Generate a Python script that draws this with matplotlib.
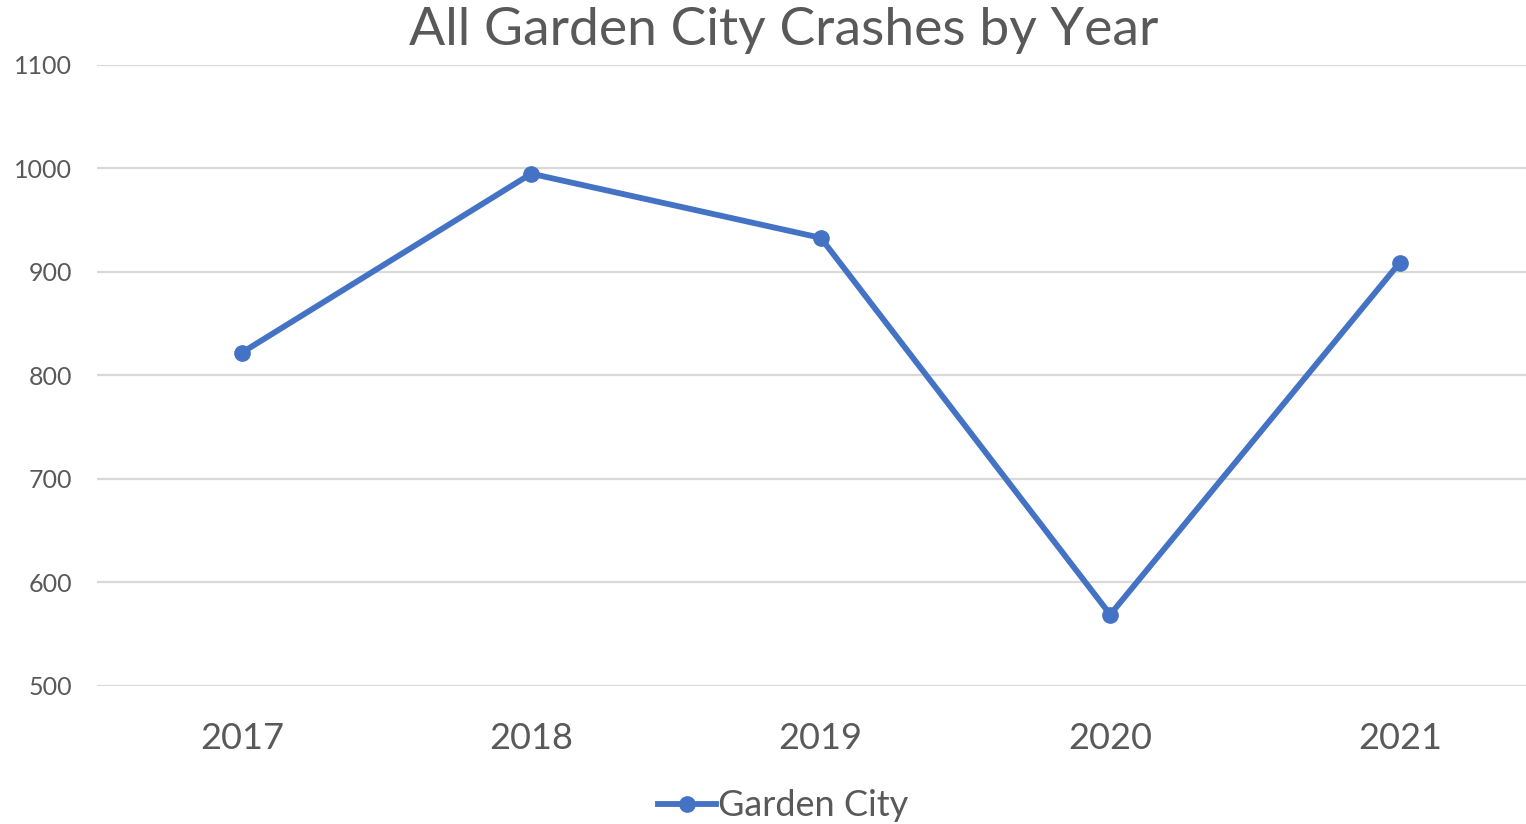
import matplotlib.pyplot as plt

# Data
years = ['2017', '2018', '2019', '2020', '2021']
crashes = [822, 995, 933, 569, 909]
series_name = 'Garden City'

plt.rcParams['font.family'] = ['Lato', 'DejaVu Sans']
text_color = '#595959'

fig = plt.figure(figsize=(15.26, 8.24), dpi=100)
ax = fig.add_axes([97 / 1526, 1 - 686 / 824, (1526 - 97) / 1526, (686 - 65) / 824])

x = range(len(years))
ax.plot(x, crashes, color='#4472C4', linewidth=4.2, marker='o', markersize=11,
        label=series_name, solid_joinstyle='round')

ax.set_ylim(500, 1100)
ax.set_yticks(range(500, 1101, 100))
ax.set_xlim(-0.5, (1526 - 97) / 289.5 - 0.5)
ax.set_xticks(list(x))
ax.set_xticklabels(years)

ax.grid(axis='y', color='#D9D9D9', linewidth=1.6)
ax.set_axisbelow(True)
for s in ax.spines.values():
    s.set_visible(False)
ax.tick_params(axis='both', length=0, colors=text_color)
ax.tick_params(axis='y', labelsize=18, pad=18)
ax.tick_params(axis='x', labelsize=26, pad=26)

fig.text(784 / 1526, 1 - 30 / 824, 'All Garden City Crashes by Year', ha='center', va='center',
         fontsize=38.5, color=text_color)

leg = fig.legend(loc='center', bbox_to_anchor=(783 / 1526, 1 - 806 / 824), frameon=False,
                 fontsize=26, handlelength=1.6, handletextpad=0.05)
for t in leg.get_texts():
    t.set_color(text_color)

fig.savefig('out.png', dpi=100)
